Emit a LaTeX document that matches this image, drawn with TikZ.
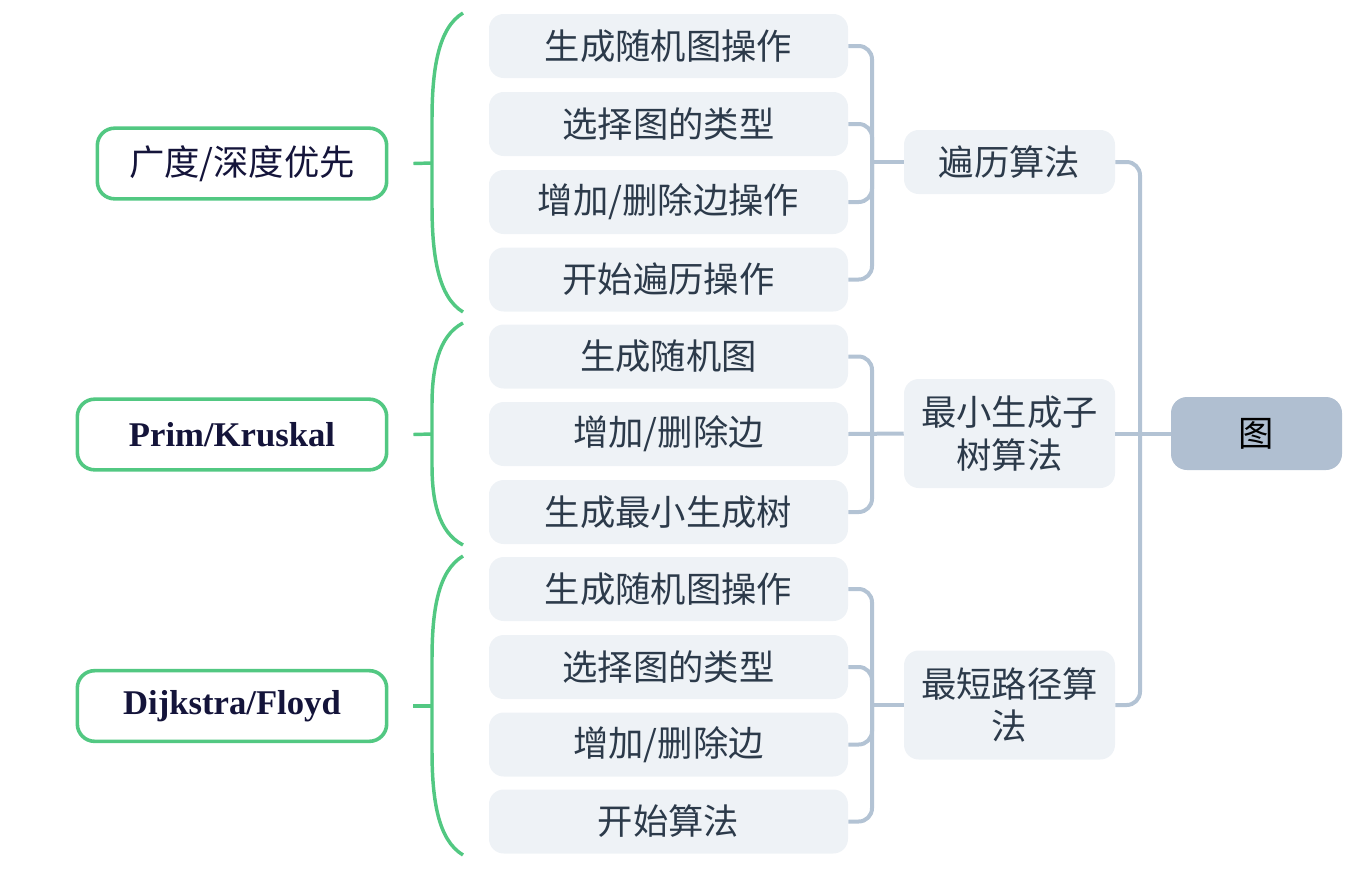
\documentclass[tikz,border=0pt]{standalone}
\usepackage{fontspec}
\setmainfont{Noto Sans CJK SC}
\newfontfamily\latinbold{Liberation Serif}
\definecolor{leaffill}{HTML}{EEF2F6}
\definecolor{leaftext}{HTML}{2C3A4A}
\definecolor{conncol}{HTML}{B3C3D4}
\definecolor{rootfill}{HTML}{B0BFD1}
\definecolor{greencol}{HTML}{52C882}
\definecolor{lefttext}{HTML}{14143A}
\begin{document}
\begin{tikzpicture}[x=0.75pt,y=-0.75pt,
  leaf/.style={fill=leaffill,rounded corners=11pt,minimum width=269.25pt,minimum height=48pt,inner sep=0pt,font=\fontsize{26.5}{30}\selectfont,text=leaftext},
  midbox/.style={fill=leaffill,rounded corners=11pt,minimum width=158.25pt,minimum height=48pt,inner sep=0pt,font=\fontsize{26.5}{32}\selectfont,text=leaftext,align=center},
  rootbox/.style={fill=rootfill,rounded corners=12pt,minimum width=128.25pt,minimum height=54.75pt,inner sep=0pt,font=\fontsize{26.5}{30}\selectfont,text=black},
  leftbox/.style={draw=greencol,line width=2.7pt,fill=white,rounded corners=13pt,minimum height=53pt,inner sep=0pt,font=\fontsize{26.5}{30}\selectfont,text=lefttext},
  conn/.style={draw=conncol,line width=3pt,rounded corners=10pt},
  brace/.style={draw=greencol,line width=2.6pt}]
\useasboundingbox (0,0) rectangle (1368,872);
% leaves group 1
\node[leaf] (a1) at (668.5,46) {生成随机图操作};
\node[leaf] (a2) at (668.5,124) {选择图的类型};
\node[leaf] (a3) at (668.5,202) {增加/删除边操作};
\node[leaf] (a4) at (668.5,279.5) {开始遍历操作};
% leaves group 2
\node[leaf] (b1) at (668.5,356.5) {生成随机图};
\node[leaf] (b2) at (668.5,434) {增加/删除边};
\node[leaf] (b3) at (668.5,512) {生成最小生成树};
% leaves group 3
\node[leaf] (c1) at (668.5,589) {生成随机图操作};
\node[leaf] (c2) at (668.5,667) {选择图的类型};
\node[leaf] (c3) at (668.5,744.5) {增加/删除边};
\node[leaf] (c4) at (668.5,821.5) {开始算法};
% mid boxes
\node[midbox] (m1) at (1009.5,162) {遍历算法};
\node[midbox,minimum height=81.75pt] (m2) at (1009.5,433.5) {最小生成子\\树算法};
\node[midbox,minimum height=81.75pt] (m3) at (1009.5,705) {最短路径算\\法};
% root
\node[rootbox] (r) at (1256.5,433.5) {图};
% left boxes
\node[leftbox,minimum width=217pt] (l1) at (242,163.5) {广度/深度优先};
\node[leftbox,minimum width=232pt] (l2) at (232,434.5) {\fontsize{26}{30}\selectfont\latinbold\bfseries Prim/Kruskal};
\node[leftbox,minimum width=232pt] (l3) at (232,706) {\fontsize{26}{30}\selectfont\latinbold\bfseries Dijkstra/Floyd};
% junctions
\coordinate (j1) at (872,162);
\coordinate (j2) at (872,434);
\coordinate (j3) at (872,705);
\coordinate (jr) at (1140,434);
% connectors
\foreach \n in {a1,a2,a3,a4} \draw[conn] (\n.east) -| (j1);
\draw[conn] (j1) -- (m1.west);
\foreach \n in {b1,b3} \draw[conn] (\n.east) -| (j2);
\draw[conn] (b2.east) -- (m2.west);
\foreach \n in {c1,c2,c3,c4} \draw[conn] (\n.east) -| (j3);
\draw[conn] (j3) -- (m3.west);
% root connectors
\draw[conn] (m1.east) -| (jr);
\draw[conn] (m3.east) -| (jr);
\draw[conn] (m2.east) -- (r.west);
% green braces
\coordinate (t1) at (432,163);
\coordinate (t2) at (432,434);
\coordinate (t3) at (432,706);
\draw[brace] (463,13) .. controls (438,28) and (432,70) .. (432,120) -- (432,205) .. controls (432,255) and (438,297) .. (463,312);
\draw[brace] (463,323) .. controls (438,336) and (432,370) .. (432,405) -- (432,465) .. controls (432,500) and (438,532) .. (463,545);
\draw[brace] (463,556) .. controls (438,571) and (432,610) .. (432,660) -- (432,750) .. controls (432,800) and (438,840) .. (463,855);
\draw[brace] (l1.east) ++(25,0) -- (t1);
\draw[brace] (l2.east) ++(25,0) -- (t2);
\draw[brace] (l3.east) ++(25,0) -- (t3);
\end{tikzpicture}
\end{document}
